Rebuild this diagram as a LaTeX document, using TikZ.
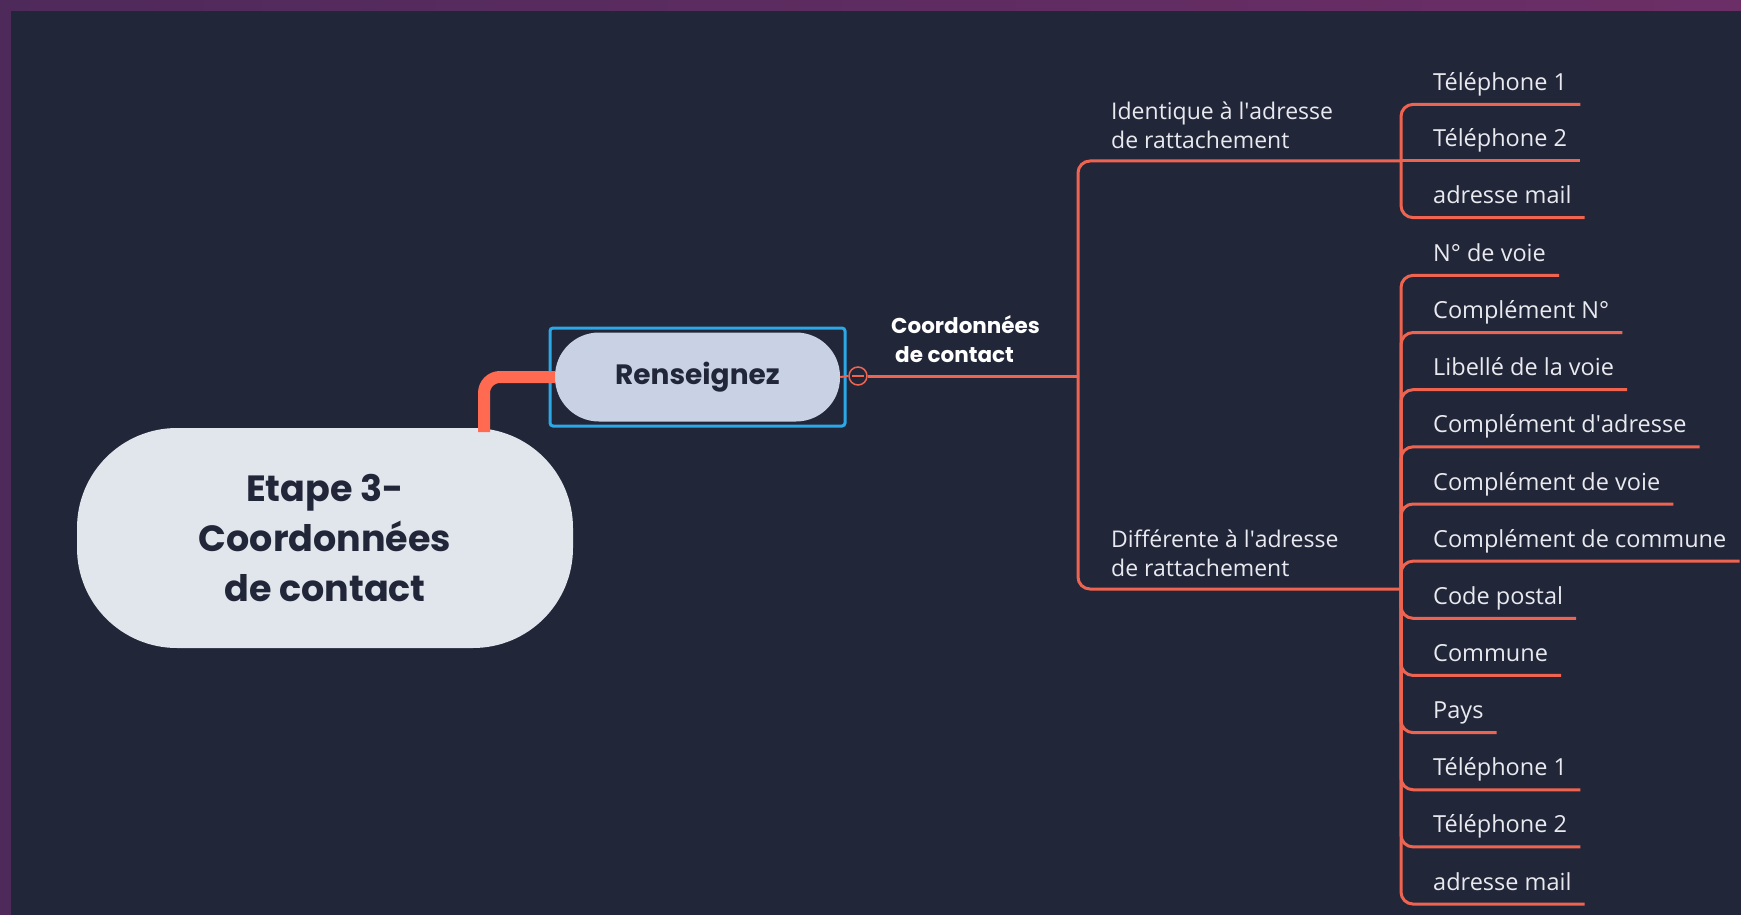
\documentclass[tikz,border=0pt]{standalone}
\usepackage{fontspec}
\setmainfont{Open Sans}
\newfontfamily\pop{Poppins}
\usetikzlibrary{positioning}
\definecolor{bg}{HTML}{222639}
\definecolor{brc}{HTML}{EF6450}
\definecolor{thk}{HTML}{FF6A50}
\definecolor{rootfill}{HTML}{E1E5EC}
\definecolor{rensfill}{HTML}{C8D2E4}
\definecolor{selblue}{HTML}{2BA8E8}
\definecolor{leaftxt}{HTML}{E8EAEF}
\definecolor{purpA}{HTML}{4E2A5A}
\definecolor{purpB}{HTML}{6C2E66}
\tikzset{
  br/.style={draw=brc, line width=3pt, rounded corners=12pt},
  leaf/.style={text=leaftxt, inner sep=0pt, font=\fontsize{23.5}{28}\selectfont},
  lbl/.style={text=leaftxt, inner sep=0pt, align=left, font=\fontsize{23}{29}\selectfont},
  rootnode/.style={fill=rootfill, rounded corners=100pt, minimum width=496pt, minimum height=220pt, align=center, text=bg, font=\pop\bfseries\fontsize{36.5}{50}\selectfont},
  rensnode/.style={fill=rensfill, rounded corners=44pt, minimum width=285pt, minimum height=89pt, text=bg, font=\pop\bfseries\fontsize{28}{32}\selectfont},
  selbox/.style={draw=selblue, line width=3pt, rounded corners=3pt, minimum width=295pt, minimum height=98pt},
}
\begin{document}
\begin{tikzpicture}[x=1pt, y=-1pt]
\useasboundingbox (0,0) rectangle (1741,915);
\fill[bg] (0,0) rectangle (1741,915);
\shade[left color=purpA, right color=purpB] (0,0) rectangle (1741,11);
\fill[purpA] (0,0) rectangle (11,915);

% root and Renseignez
\node[rootnode] (root) at (325,538) {\raisebox{3pt}{\parbox{400pt}{\centering Etape 3-\\Coordonnées\\de contact}}};
\node[rensnode] (rens) at (697.5,377) {Renseignez};
\node[selbox] (sel) at (rens.center) {};
\coordinate (rc) at (484,432);
\draw[thk, line width=12pt, rounded corners=16pt] (rc) |- (rens.west);

% collapse circle
\node[circle, draw=brc, line width=1.5pt, minimum size=18pt, inner sep=0pt] (minus) at (858,376) {};
\draw[brc, line width=1.5pt] ([xshift=-6pt]minus.center) -- ([xshift=6pt]minus.center);
\draw[brc, line width=2pt] (rens.east) -- (minus.west);

% main branch
\coordinate (hub) at (1078,376);
\coordinate (j1) at (1401,161);
\coordinate (j2) at (1401,589);
\draw[br] (minus.east) -- (hub);
\draw[br] (hub) |- (j1);
\draw[br] (hub) |- (j2);

\node[text=white, inner sep=0pt, align=left, anchor=west, font=\pop\bfseries\fontsize{21.5}{29}\selectfont] (cdc) at (891,339) {Coordonnées\\\hspace{4pt}de contact};
\node[lbl, anchor=west] (ident) at (1111,125) {Identique à l\textquotesingle adresse\\de rattachement};
\node[lbl, anchor=west] (diff) at (1111,553) {Différente à l\textquotesingle adresse\\de rattachement};

% group 1
\foreach \nm/\txt/\uy in {a1/Téléphone 1/104.4, a3/adresse mail/217.6}{
  \node[leaf, anchor=base west] (\nm) at (1433,\uy-14) {\txt};
  \draw[br] (j1) |- ([shift={(13pt,-14pt)}]\nm.base east);
}
\node[leaf, anchor=base west] (a2) at (1433,147) {Téléphone 2};
\draw[br] (j1) -- ([shift={(13pt,-14pt)}]a2.base east);

% group 2
\foreach \nm/\txt/\k in {b1/N° de voie/0, b2/Complément N°/1, b3/Libellé de la voie/2, b4/Complément d\textquotesingle adresse/3, b5/Complément de voie/4, b6/Complément de commune/5, b7/Code postal/6, b8/Commune/7, b9/Pays/8, b10/Téléphone 1/9, b11/Téléphone 2/10, b12/adresse mail/11}{
  \node[leaf, anchor=base west] (\nm) at (1433,275.4+57.15*\k-14) {\txt};
  \draw[br] (j2) |- ([shift={(13pt,-14pt)}]\nm.base east);
}
\end{tikzpicture}
\end{document}
